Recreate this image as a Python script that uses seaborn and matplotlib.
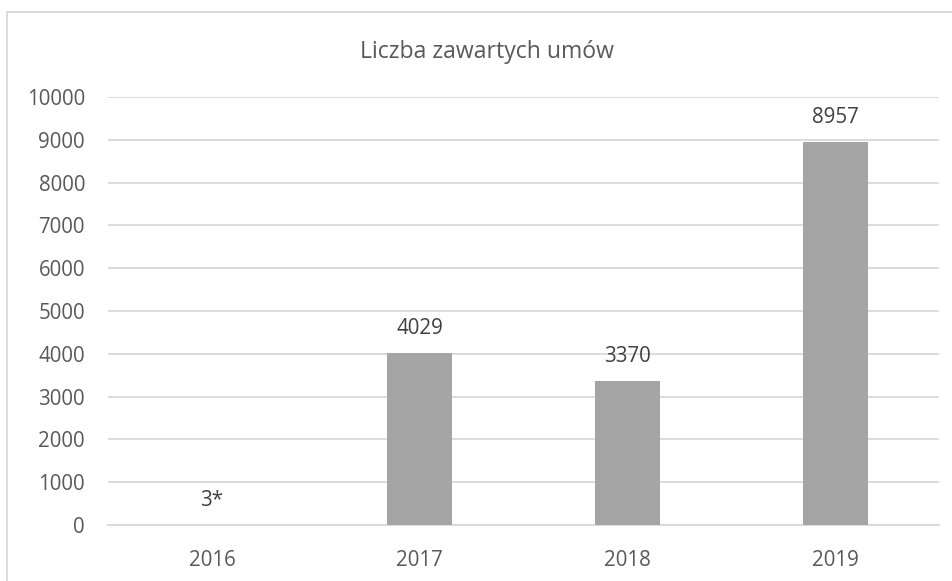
import matplotlib
matplotlib.use("Agg")
import matplotlib.pyplot as plt
import seaborn as sns
import pandas as pd
from matplotlib.patches import Rectangle

years = ["2016", "2017", "2018", "2019"]
values = [3, 4029, 3370, 8957]
value_labels = ["3*", "4029", "3370", "8957"]
yticks = [0, 1000, 2000, 3000, 4000, 5000, 6000, 7000, 8000, 9000, 10000]
title = "Liczba zawartych umów"

sns.set_theme(style="white")
plt.rcParams["font.family"] = ["Open Sans", "DejaVu Sans"]

W, H = 952, 581
fig = plt.figure(figsize=(W / 100, H / 100), dpi=100)
fig.patch.set_facecolor("white")

# chart border (extends beyond the image on right/bottom)
fig.patches.append(Rectangle((7 / W, -0.1), 1.2, 1 - 11.5 / H + 0.1,
                             transform=fig.transFigure, fill=False,
                             edgecolor="#D9D9D9", linewidth=1.3))

ax = fig.add_axes([108 / W, 1 - 525 / H, (939 - 108) / W, (525 - 97) / H])
df = pd.DataFrame({"year": years, "value": values})
sns.barplot(data=df, x="year", y="value", color="#A5A5A5", saturation=1,
            width=0.313, linewidth=0, ax=ax, zorder=3)

ax.set_ylim(0, 10000)
ax.set_xlim(-0.5, 3.5)
ax.set_yticks(yticks)
ax.set_yticklabels([str(t) for t in yticks])
ax.grid(axis="y", color="#D9D9D9", linewidth=1.3, zorder=0)
ax.set_axisbelow(True)
for s in ["left", "right", "top"]:
    ax.spines[s].set_visible(False)
ax.spines["bottom"].set_color("#D9D9D9")
ax.spines["bottom"].set_linewidth(1.3)
ax.set_xlabel("")
ax.set_ylabel("")
ax.tick_params(axis="y", length=0, pad=16.5, labelsize=14.8, labelcolor="#595959")
ax.tick_params(axis="x", length=0, pad=18, labelsize=14.8, labelcolor="#595959")

for i, (v, lab) in enumerate(zip(values, value_labels)):
    ax.annotate(lab, xy=(i, v), xytext=(0, 13.7), textcoords="offset points",
                ha="center", va="baseline", fontsize=14.8, color="#404040")

fig.text(0.5 * (360 + 615) / W, 1 - 52 / H, title, ha="center", va="center",
         fontsize=16.6, color="#595959")

fig.savefig("out.png", dpi=100, facecolor="white")
